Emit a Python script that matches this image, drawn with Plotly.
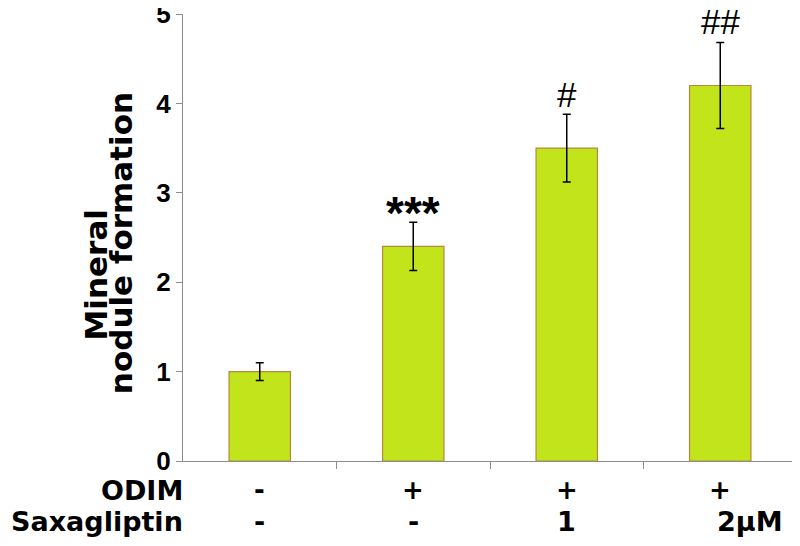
import plotly.graph_objects as go

groups = ["G1", "G2", "G3", "G4"]
values = [1.0, 2.4, 3.5, 4.2]
errors = [0.1, 0.27, 0.38, 0.48]
signif = ["", "***", "#", "##"]
odim_labels = ["-", "+", "+", "+"]
saxa_labels = ["-", "-", "1", "2μM"]
yticks = [0, 1, 2, 3, 4, 5]

xpos = list(range(len(groups)))
NUMF = "Liberation Sans, Arial, sans-serif"
TXTF = "DejaVu Sans, Verdana, sans-serif"

fig = go.Figure()
fig.add_trace(go.Bar(
    x=xpos, y=values, width=0.4,
    marker=dict(color="#C2E41B", line=dict(color="#B8883A", width=1.2)),
    error_y=dict(type="data", array=errors, visible=True, color="black",
                 thickness=1.5, width=4),
))

annotations = []
sig_shift = {"***": 9, "#": 20, "##": 21}
for i, (v, e, s) in enumerate(zip(values, errors, signif)):
    if s:
        bold = s == "***"
        annotations.append(dict(x=i, y=v + e, xref="x", yref="y",
                                text=f"<b>{s}</b>" if bold else s,
                                showarrow=False, xanchor="center", yanchor="middle",
                                yshift=sig_shift[s],
                                font=dict(family=NUMF, size=46 if bold else 35,
                                          color="black")))
for i, (o, sx) in enumerate(zip(odim_labels, saxa_labels)):
    annotations.append(dict(x=i, y=-0.065, xref="x", yref="paper", text=f"<b>{o}</b>",
                            showarrow=False, xanchor="center", yanchor="middle",
                            font=dict(family=TXTF, size=26, color="black")))
    if sx == "2μM":
        annotations.append(dict(x=i - 0.035, y=-0.136, xref="x", yref="paper",
                                text=f"<b>{sx}</b>", showarrow=False,
                                xanchor="left", yanchor="middle",
                                font=dict(family=TXTF, size=27, color="black")))
    else:
        annotations.append(dict(x=i, y=-0.136, xref="x", yref="paper",
                                text=f"<b>{sx}</b>", showarrow=False,
                                xanchor="center", yanchor="middle",
                                font=dict(family=TXTF, size=27, color="black")))
annotations.append(dict(x=0.003, y=-0.065, xref="paper", yref="paper", text="<b>ODIM</b>",
                        xanchor="right", yanchor="middle", showarrow=False,
                        font=dict(family=TXTF, size=27, color="black")))
annotations.append(dict(x=0.003, y=-0.136, xref="paper", yref="paper", text="<b>Saxagliptin</b>",
                        xanchor="right", yanchor="middle", showarrow=False,
                        font=dict(family=TXTF, size=27, color="black")))
annotations.append(dict(x=-0.141, y=0.416, xref="paper", yref="paper",
                        text="<b>Mineral</b>", textangle=-90,
                        xanchor="center", yanchor="middle",
                        showarrow=False, font=dict(family=TXTF, size=31, color="black")))
annotations.append(dict(x=-0.1005, y=0.488, xref="paper", yref="paper",
                        text="<b>nodule formation</b>", textangle=-90,
                        xanchor="center", yanchor="middle",
                        showarrow=False, font=dict(family=TXTF, size=31, color="black")))

fig.update_layout(
    width=800, height=546,
    margin=dict(l=175, r=11, t=6, b=93),
    plot_bgcolor="white", paper_bgcolor="white",
    showlegend=False,
    annotations=annotations,
    xaxis=dict(range=[-0.5, 3.5], tickvals=[0.5, 1.5, 2.5], showticklabels=False,
               ticks="outside", ticklen=7, tickcolor="#8c8c8c", showline=True,
               linecolor="#8c8c8c", linewidth=1.2, showgrid=False, zeroline=False,
               automargin=False),
    yaxis=dict(range=[0, 5], tickvals=yticks, ticktext=[f"<b>{t}</b>" for t in yticks],
               ticks="outside", ticklen=6, tickcolor="#8c8c8c", showline=True,
               linecolor="#8c8c8c", linewidth=1.2, showgrid=False, zeroline=False,
               automargin=False, ticklabeloverflow="allow",
               tickfont=dict(family=NUMF, size=26, color="black")),
)

fig.write_html("out.html")
